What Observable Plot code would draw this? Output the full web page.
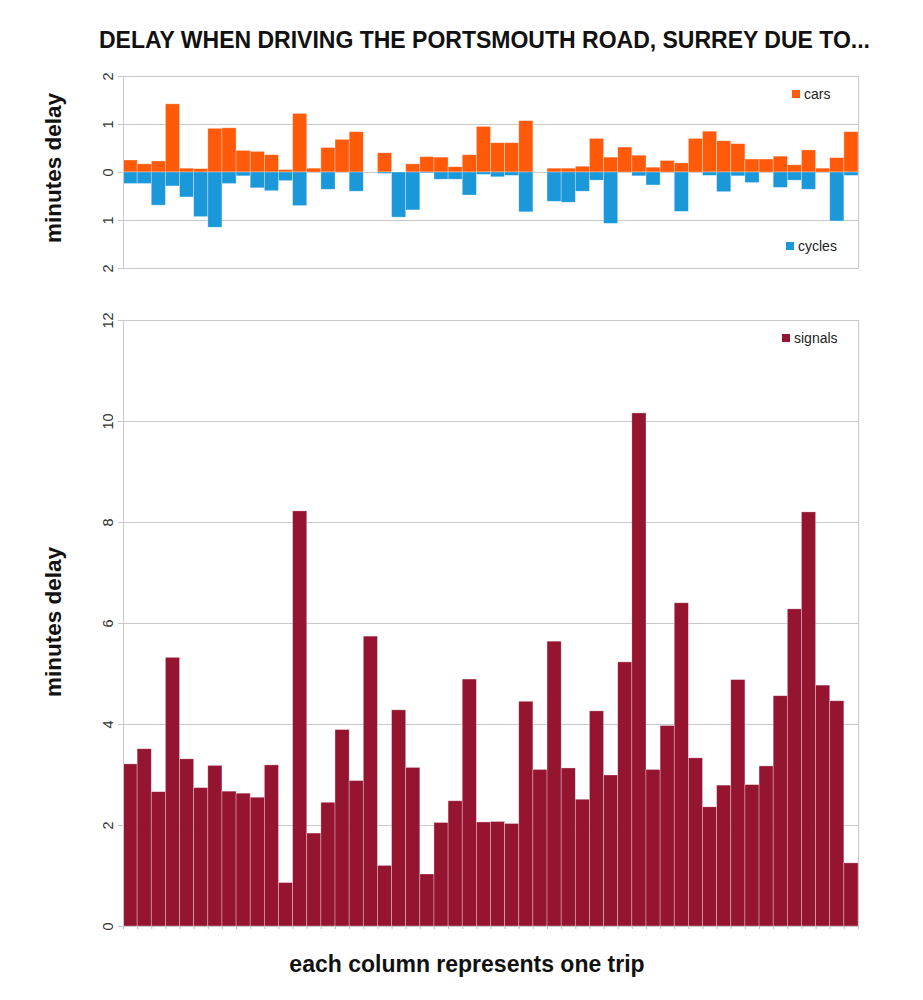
<!DOCTYPE html>
<html>
<head>
<meta charset="utf-8">
<script src="https://cdn.jsdelivr.net/npm/d3@7"></script>
<script src="https://cdn.jsdelivr.net/npm/@observablehq/plot@0.6"></script>
<style>
  body { margin: 0; background: #fff; font-family: "Liberation Sans", Arial, sans-serif; }
  #page { position: relative; width: 923px; height: 1000px; overflow: hidden; }
  .abs { position: absolute; white-space: nowrap; }
  .title { left: 99px; top: 27px; font-size: 23px; font-weight: bold; color: #111; }
  .ylab { font-size: 22.5px; font-weight: bold; color: #111; transform: translate(-50%, -50%) rotate(-90deg); }
  .xlab { left: 467px; top: 964px; transform: translate(-50%, -50%); font-size: 23px; font-weight: bold; color: #111; }
  .leg { font-size: 14px; color: #222; display: flex; align-items: center; }
  .sw { width: 8px; height: 8px; margin-right: 4px; display: inline-block; }
  .chart { position: absolute; left: 0; }
  .chart svg text { font-size: 14.5px !important; font-family: "Liberation Sans", Arial, sans-serif; }
</style>
</head>
<body>
<div id="page">
  <div class="abs title" id="title"></div>
  <div class="abs ylab" id="ylabTop" style="left:54px; top:168px;"></div>
  <div class="abs ylab" id="ylabBottom" style="left:54px; top:622px;"></div>
  <div class="abs xlab" id="xlab"></div>
  <div class="chart" id="top" style="top:60px;"></div>
  <div class="chart" id="bottom" style="top:300px;"></div>
  <div class="abs leg" id="legCars" style="left:792px; top:86px;"></div>
  <div class="abs leg" id="legCycles" style="left:786px; top:238px;"></div>
  <div class="abs leg" id="legSignals" style="left:782px; top:330px;"></div>
</div>
<script>
// ---- data (minutes of delay per trip) ----
const titleText = "DELAY WHEN DRIVING THE PORTSMOUTH ROAD, SURREY DUE TO...";
const yLabel = "minutes delay";
const xLabel = "each column represents one trip";
const seriesNames = ["cars", "cycles", "signals"];
const seriesColors = ["#ff5a0a", "#1b98d9", "#95142f"];

const cars = [0.25,0.17,0.23,1.42,0.08,0.07,0.91,0.92,0.45,0.43,
              0.36,0.05,1.22,0.08,0.51,0.68,0.84,0,0.40,0,
              0.17,0.32,0.31,0.11,0.36,0.95,0.61,0.61,1.07,0,
              0.08,0.08,0.12,0.70,0.31,0.52,0.35,0.10,0.24,0.19,
              0.70,0.85,0.65,0.59,0.27,0.27,0.33,0.15,0.46,0.08,0.30,0.84];
const cycles = [0.24,0.24,0.69,0.29,0.52,0.93,1.15,0.24,0.08,0.33,
                0.39,0.18,0.70,0,0.36,0,0.40,0,0.03,0.94,
                0.79,0.02,0.15,0.15,0.48,0.05,0.10,0.07,0.83,0,
                0.61,0.63,0.40,0.17,1.07,0,0.08,0.27,0,0.82,
                0,0.07,0.41,0.08,0.22,0,0.32,0.17,0.36,0,1.02,0.07];
const signals = [3.21,3.51,2.66,5.32,3.31,2.74,3.18,2.67,2.63,2.55,
                 3.19,0.86,8.22,1.84,2.45,3.89,2.88,5.74,1.20,4.28,
                 3.14,1.03,2.05,2.48,4.89,2.06,2.07,2.03,4.45,3.10,
                 5.64,3.13,2.51,4.26,2.99,5.23,10.16,3.10,3.97,6.40,
                 3.33,2.36,2.79,4.88,2.80,3.17,4.56,6.28,8.20,4.77,4.46,1.25];
const topTicks = [-2, -1, 0, 1, 2];
const bottomTicks = [0, 2, 4, 6, 8, 10, 12];

// ---- build ----
const n = signals.length;
const trips = d3.range(n).map(i => ({i, cars: cars[i], cycles: cycles[i], signals: signals[i]}));
const grid = "#c9c9c9";

document.getElementById("title").textContent = titleText;
document.getElementById("ylabTop").textContent = yLabel;
document.getElementById("ylabBottom").textContent = yLabel;
document.getElementById("xlab").textContent = xLabel;

function legend(id, k) {
  const el = document.getElementById(id);
  const sw = document.createElement("span");
  sw.className = "sw"; sw.style.background = seriesColors[k];
  el.appendChild(sw);
  el.appendChild(document.createTextNode(seriesNames[k]));
}
legend("legCars", 0); legend("legCycles", 1); legend("legSignals", 2);

const common = {
  width: 923,
  marginLeft: 123,
  marginRight: 65,
  style: {fontFamily: "Liberation Sans, Arial, sans-serif", color: "#333", background: "transparent"}
};
const barStyle = {stroke: "#fff", strokeWidth: 0.7, strokeOpacity: 0.45};

const topChart = Plot.plot({
  ...common,
  height: 220,
  marginTop: 16,
  marginBottom: 12,
  x: {domain: [0, n], axis: null},
  y: {domain: [-2, 2], axis: null},
  marks: [
    Plot.gridY(topTicks.filter(t => Math.abs(t) < 2), {stroke: grid, strokeOpacity: 1}),
    Plot.rectY(trips.filter(d => d.cars > 0), {x1: d => d.i, x2: d => d.i + 1, y1: 0, y2: d => d.cars, fill: seriesColors[0], ...barStyle}),
    Plot.rectY(trips.filter(d => d.cycles > 0), {x1: d => d.i, x2: d => d.i + 1, y1: 0, y2: d => -d.cycles, fill: seriesColors[1], ...barStyle}),
    Plot.axisY({ticks: topTicks, tickSize: 5, stroke: grid, tickRotate: -90, tickPadding: 6, tickFormat: d => Math.abs(d), label: null, fill: "#333"}),
    Plot.frame({stroke: grid})
  ]
});
document.getElementById("top").appendChild(topChart);

const bottomChart = Plot.plot({
  ...common,
  height: 640,
  marginTop: 20,
  marginBottom: 14,
  x: {domain: [0, n]},
  y: {domain: [0, 12]},
  marks: [
    Plot.gridY(bottomTicks.filter(t => t > 0 && t < 12), {stroke: grid, strokeOpacity: 1}),
    Plot.rectY(trips, {x1: d => d.i, x2: d => d.i + 1, y1: 0, y2: d => d.signals, fill: seriesColors[2], ...barStyle}),
    Plot.axisX({ticks: d3.range(0, n + 1), tickSize: 3, stroke: "#bbb", tickFormat: () => "", label: null}),
    Plot.axisY({ticks: bottomTicks, tickSize: 5, stroke: grid, tickRotate: -90, tickPadding: 6, label: null, fill: "#333"}),
    Plot.frame({stroke: grid})
  ]
});
document.getElementById("bottom").appendChild(bottomChart);
</script>
</body>
</html>
